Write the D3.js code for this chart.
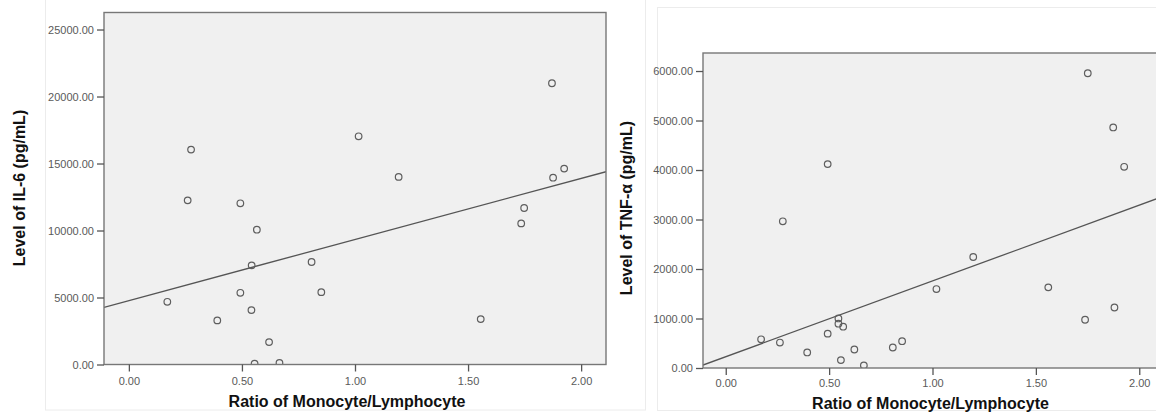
<!DOCTYPE html>
<html>
<head>
<meta charset="utf-8">
<script src="https://cdn.jsdelivr.net/npm/d3@7"></script>
<style>
  body { margin: 0; background: white; }
  .tick text { font-family: "Liberation Sans", Arial, sans-serif; font-size: 11px; fill: #5a5a5a; }
  .tick line { stroke: #555; stroke-width: 1.3; }
  .title { font-family: "Liberation Sans", Arial, sans-serif; font-size: 16px; font-weight: bold; fill: #111; }
</style>
</head>
<body>
<svg class="canvas"></svg>
<script>
//data
let ratioIL6 = [0.17, 0.275, 0.26, 0.493, 0.566, 0.543, 0.493, 0.542, 0.391, 0.62, 0.556,
                0.666, 0.808, 0.851, 1.016, 1.193, 1.556, 1.735, 1.748, 1.871, 1.876, 1.925];
let il6 = [4680, 16040, 12250, 12030, 10060, 7400, 5350, 4060, 3290, 1670, 60,
           120, 7650, 5400, 17030, 14000, 3390, 10530, 11680, 20990, 13940, 14620];
let ratioTNF = [0.171, 0.262, 0.276, 0.394, 0.493, 0.493, 0.545, 0.545, 0.568, 0.557, 0.622,
                0.668, 0.808, 0.853, 1.019, 1.197, 1.560, 1.738, 1.751, 1.874, 1.880, 1.927];
let tnf = [580, 514, 2964, 314, 4119, 694, 1001, 895, 834, 160, 374,
           53, 414, 541, 1595, 2243, 1629, 975, 5955, 4860, 1222, 4065];
//fit lines: [intercept, slope]
let fitIL6 = [4770, 4558];
let fitTNF = [228, 1531];
let xTicks = [0, 0.5, 1, 1.5, 2];
let il6Ticks = [0, 5000, 10000, 15000, 20000, 25000];
let tnfTicks = [0, 1000, 2000, 3000, 4000, 5000, 6000];
//----------

let width = 1156;
let height = 413;

var svg = d3.select(".canvas")
    .attr("width", width)
    .attr("height", height)

//faint panel frames from the pasted figures
svg.append("rect").attr("x", 45.5).attr("y", -5).attr("width", 600).attr("height", 415)
    .attr("fill", "none").attr("stroke", "#ececec")
svg.append("rect").attr("x", 657.5).attr("y", 7.5).attr("width", 520).attr("height", 403)
    .attr("fill", "none").attr("stroke", "#ececec")

drawPanel({
    id: "il6", left: 104, right: 606, top: 12.5, bottom: 364.5,
    yMax: 26270, yTicks: il6Ticks, xs: ratioIL6, ys: il6, fit: fitIL6,
    xLabelY: 385, xTitleY: 407, yTitleX: 25, yTitleY: 188,
    yTitle: "Level of IL-6 (pg/mL)"
})
drawPanel({
    id: "tnf", left: 703, right: 1162, top: 53, bottom: 368,
    yMax: 6364, yTicks: tnfTicks, xs: ratioTNF, ys: tnf, fit: fitTNF,
    xLabelY: 387, xTitleY: 409, yTitleX: 632, yTitleY: 208,
    yTitle: "Level of TNF-α (pg/mL)"
})

function drawPanel(p) {
    let x = d3.scaleLinear().domain([-0.11, 2.11]).range([p.left, p.right]);
    let y = d3.scaleLinear().domain([0, p.yMax]).range([p.bottom, p.top]);

    svg.append("clipPath").attr("id", "clip-" + p.id)
        .append("rect")
        .attr("x", p.left).attr("y", p.top)
        .attr("width", p.right - p.left).attr("height", p.bottom - p.top)

    svg.append("rect")
        .attr("x", p.left).attr("y", p.top)
        .attr("width", p.right - p.left).attr("height", p.bottom - p.top)
        .attr("fill", "#f0f0f0")

    let plot = svg.append("g").attr("clip-path", "url(#clip-" + p.id + ")")

    let x0 = x.domain()[0], x1 = x.domain()[1];
    plot.append("line")
        .attr("x1", x(x0)).attr("y1", y(p.fit[0] + p.fit[1] * x0))
        .attr("x2", x(x1)).attr("y2", y(p.fit[0] + p.fit[1] * x1))
        .attr("stroke", "#555").attr("stroke-width", 1.3)

    plot.selectAll(".dot")
        .data(p.xs)
        .enter()
        .append("circle")
        .attr("cx", function(d) {return x(d)})
        .attr("cy", function(d, i) {return y(p.ys[i])})
        .attr("r", 3.3)
        .attr("fill", "none")
        .attr("stroke", "#5e5e5e")
        .attr("stroke-width", 1.2)

    svg.append("rect")
        .attr("x", p.left).attr("y", p.top)
        .attr("width", p.right - p.left).attr("height", p.bottom - p.top)
        .attr("fill", "none").attr("stroke", "#777").attr("stroke-width", 1.4)

    let ax = svg.append("g")
        .attr("transform", "translate(0," + p.bottom + ")")
        .call(d3.axisBottom(x).tickValues(xTicks).tickFormat(d3.format(".2f")).tickSize(7).tickSizeOuter(0))
    ax.select(".domain").remove()
    ax.selectAll(".tick text").attr("y", null).attr("dy", null)
        .attr("transform", "translate(0," + (p.xLabelY - p.bottom) + ")")

    let ay = svg.append("g")
        .attr("transform", "translate(" + p.left + ",0)")
        .call(d3.axisLeft(y).tickValues(p.yTicks).tickFormat(d3.format(".2f")).tickSize(7).tickPadding(3).tickSizeOuter(0))
    ay.select(".domain").remove()
    ay.selectAll(".tick text").attr("dy", "0.35em")

    svg.append("text")
        .attr("class", "title")
        .attr("x", (p.left + p.right) / 2 - (p.id == "tnf" ? 2 : 8))
        .attr("y", p.xTitleY)
        .attr("text-anchor", "middle")
        .text("Ratio of Monocyte/Lymphocyte")

    svg.append("text")
        .attr("class", "title")
        .attr("transform", "translate(" + p.yTitleX + "," + p.yTitleY + ") rotate(-90)")
        .attr("text-anchor", "middle")
        .text(p.yTitle)
}
</script>
</body>
</html>
